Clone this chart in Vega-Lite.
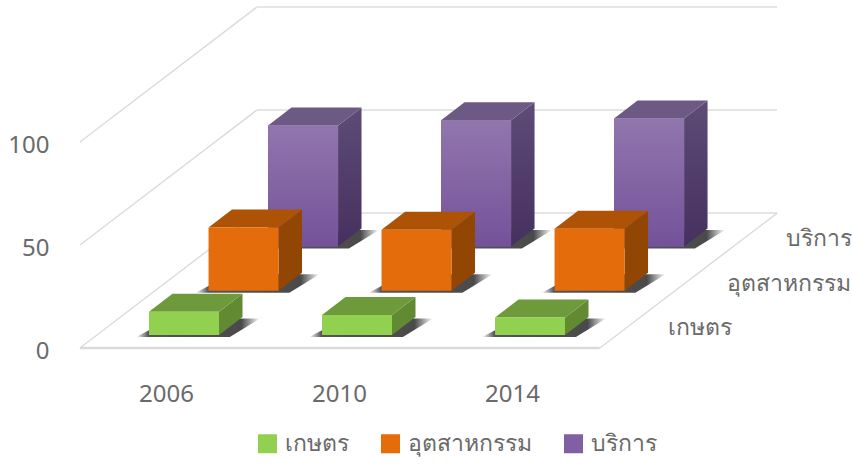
{"$schema":"https://vega.github.io/schema/vega-lite/v6.json","width":852,"height":465,"padding":0,"autosize":"none","background":"white","config":{"view":{"stroke":null},"font":"Noto Sans","axis":{"title":null,"domain":false,"ticks":false,"grid":false,"labelPadding":0,"labelFontSize":24,"labelColor":"#6a6a6a","labelFont":"Noto Sans"}},"datasets":{"bars":[{"year":2006,"sector":"เกษตร","s":0,"value":11.3},{"year":2010,"sector":"เกษตร","s":0,"value":9.7},{"year":2014,"sector":"เกษตร","s":0,"value":8.5},{"year":2006,"sector":"อุตสาหกรรม","s":1,"value":30.7},{"year":2010,"sector":"อุตสาหกรรม","s":1,"value":29.6},{"year":2014,"sector":"อุตสาหกรรม","s":1,"value":30.1},{"year":2006,"sector":"บริการ","s":2,"value":58.7},{"year":2010,"sector":"บริการ","s":2,"value":61.2},{"year":2014,"sector":"บริการ","s":2,"value":62.1}],"levels":[{"level":0},{"level":50},{"level":100}],"sectors":[{"sector":"เกษตร","s":0},{"sector":"อุตสาหกรรม","s":1},{"sector":"บริการ","s":2}]},"layer":[
{"data":{"name":"levels"},"transform":[{"calculate":"datum.level+65.5","as":"back"}],"mark":{"type":"rule","stroke":"#dcdcdc","strokeWidth":1.5},"encoding":{"x":{"datum":2004.01,"type":"quantitative","title":null,"scale":{"domain":[2002.162,2021.86],"nice":false,"zero":false},"axis":{"values":[2006,2010,2014],"format":"d","title":null,"orient":"bottom","offset":-83,"labelBaseline":"top"}},"x2":{"datum":2008.1},"y":{"field":"level","type":"quantitative","title":null,"scale":{"domain":[-56.8,168.93],"nice":false,"zero":false},"axis":{"values":[0,50,100],"title":null,"orient":"left","offset":-49,"labelOffset":4}},"y2":{"field":"back"}}},
{"data":{"name":"levels"},"transform":[{"calculate":"datum.level+65.5","as":"back"}],"mark":{"type":"rule","stroke":"#dcdcdc","strokeWidth":1.5},"encoding":{"x":{"datum":2008.1,"type":"quantitative","title":null,"scale":{"domain":[2002.162,2021.86],"nice":false,"zero":false}},"x2":{"datum":2020.13},"y":{"field":"back","type":"quantitative","title":null,"scale":{"domain":[-56.8,168.93],"nice":false,"zero":false}}}},
{"data":{"values":[{"level":0,"back":65.5}]},"mark":{"type":"rule","stroke":"#dcdcdc","strokeWidth":1.5},"encoding":{"x":{"datum":2016.03,"type":"quantitative","title":null,"scale":{"domain":[2002.162,2021.86],"nice":false,"zero":false}},"x2":{"datum":2020.13},"y":{"field":"level","type":"quantitative","title":null,"scale":{"domain":[-56.8,168.93],"nice":false,"zero":false}},"y2":{"field":"back"}}},
{"data":{"values":[{"level":0}]},"mark":{"type":"rule","stroke":"#d9d9d9","strokeWidth":2.5},"encoding":{"x":{"datum":2004.01,"type":"quantitative","title":null,"scale":{"domain":[2002.162,2021.86],"nice":false,"zero":false}},"x2":{"datum":2016.03},"y":{"field":"level","type":"quantitative","title":null,"scale":{"domain":[-56.8,168.93],"nice":false,"zero":false}}}},
{"data":{"name":"sectors"},"transform":[{"calculate":"2017.61+1.365*datum.s","as":"lx"},{"calculate":"9.7+21.5*datum.s","as":"ly"}],"mark":{"type":"text","align":"left","baseline":"middle","fontSize":23,"color":"#6a6a6a"},"encoding":{"x":{"field":"lx","type":"quantitative","title":null,"scale":{"domain":[2002.162,2021.86],"nice":false,"zero":false}},"y":{"field":"ly","type":"quantitative","title":null,"scale":{"domain":[-56.8,168.93],"nice":false,"zero":false}},"text":{"field":"sector"}}},
{"data":{"name":"bars"},"transform":[{"calculate":"[0,1]","as":"t"},{"flatten":["t"]},{"calculate":"datum.year-0.393+1.376*datum.s","as":"x0"},{"calculate":"datum.x0+1.6185","as":"x1"},{"calculate":"6.31+21.5*datum.s","as":"base"},{"calculate":"datum.base+datum.value","as":"top"},{"calculate":"datum.x1+0.543*datum.t","as":"sx"},{"calculate":"datum.base+8.74*datum.t","as":"sb"},{"calculate":"datum.top+8.74*datum.t","as":"st"},{"calculate":"datum.x0+0.543*datum.t","as":"tx0"},{"calculate":"datum.x1+0.543*datum.t","as":"tx1"},{"calculate":"datum.x0-0.3+0.82*datum.t","as":"shx0"},{"calculate":"datum.x1+0.25+0.7*datum.t","as":"shx1"},{"calculate":"datum.base-1+9*datum.t","as":"shy"}],"layer":[
{"mark":{"type":"area","orient":"horizontal","fill":{"x1":0,"y1":0,"x2":1,"y2":0,"gradient":"linear","stops":[{"offset":0,"color":"#ffffff"},{"offset":0.1,"color":"#555555"},{"offset":0.85,"color":"#4a4a4a"},{"offset":1,"color":"#ffffff"}]}},"encoding":{"detail":[{"field":"year"},{"field":"s"}],"y":{"field":"shy","type":"quantitative","title":null,"scale":{"domain":[-56.8,168.93],"nice":false,"zero":false}},"x":{"field":"shx0","type":"quantitative","title":null,"scale":{"domain":[2002.162,2021.86],"nice":false,"zero":false}},"x2":{"field":"shx1"}}},
{"transform":[{"filter":"datum.s==2"}],"layer":[
{"mark":{"type":"area","orient":"vertical","fill":{"x1":0,"y1":0,"x2":0,"y2":1,"gradient":"linear","stops":[{"offset":0,"color":"#5e4b76"},{"offset":1,"color":"#46305f"}]}},"encoding":{"detail":{"field":"year"},"x":{"field":"sx","type":"quantitative","title":null,"scale":{"domain":[2002.162,2021.86],"nice":false,"zero":false}},"y":{"field":"sb","type":"quantitative","title":null,"scale":{"domain":[-56.8,168.93],"nice":false,"zero":false}},"y2":{"field":"st"}}},
{"mark":{"type":"area","orient":"horizontal","fill":"#6c5a84"},"encoding":{"detail":{"field":"year"},"y":{"field":"st","type":"quantitative","title":null,"scale":{"domain":[-56.8,168.93],"nice":false,"zero":false}},"x":{"field":"tx0","type":"quantitative","title":null,"scale":{"domain":[2002.162,2021.86],"nice":false,"zero":false}},"x2":{"field":"tx1"}}},
{"transform":[{"filter":"datum.t==0"}],"mark":{"type":"rect"},"encoding":{"x":{"field":"x0","type":"quantitative","title":null,"scale":{"domain":[2002.162,2021.86],"nice":false,"zero":false}},"x2":{"field":"x1"},"y":{"field":"base","type":"quantitative","title":null,"scale":{"domain":[-56.8,168.93],"nice":false,"zero":false}},"y2":{"field":"top"},"color":{"field":"sector","type":"nominal","scale":{"domain":["เกษตร","อุตสาหกรรม","บริการ"],"range":["#92d050","#e46c0a","#8060a2"]},"legend":{"title":null,"orient":"none","legendX":256,"legendY":432,"direction":"horizontal","columns":3,"symbolType":"square","symbolSize":361,"symbolStrokeWidth":0,"labelFontSize":23,"labelColor":"#6a6a6a","labelFont":"Noto Sans","labelOffset":6,"columnPadding":30}}}},
{"transform":[{"filter":"datum.t==0"}],"mark":{"type":"rect","fill":{"x1":0,"y1":0,"x2":0,"y2":1,"gradient":"linear","stops":[{"offset":0,"color":"#9176ad"},{"offset":1,"color":"#74529a"}]}},"encoding":{"x":{"field":"x0","type":"quantitative","title":null,"scale":{"domain":[2002.162,2021.86],"nice":false,"zero":false}},"x2":{"field":"x1"},"y":{"field":"base","type":"quantitative","title":null,"scale":{"domain":[-56.8,168.93],"nice":false,"zero":false}},"y2":{"field":"top"}}}
]},
{"transform":[{"filter":"datum.s==1"}],"layer":[
{"mark":{"type":"area","orient":"vertical","fill":"#914604"},"encoding":{"detail":{"field":"year"},"x":{"field":"sx","type":"quantitative","title":null,"scale":{"domain":[2002.162,2021.86],"nice":false,"zero":false}},"y":{"field":"sb","type":"quantitative","title":null,"scale":{"domain":[-56.8,168.93],"nice":false,"zero":false}},"y2":{"field":"st"}}},
{"mark":{"type":"area","orient":"horizontal","fill":"#ae5305"},"encoding":{"detail":{"field":"year"},"y":{"field":"st","type":"quantitative","title":null,"scale":{"domain":[-56.8,168.93],"nice":false,"zero":false}},"x":{"field":"tx0","type":"quantitative","title":null,"scale":{"domain":[2002.162,2021.86],"nice":false,"zero":false}},"x2":{"field":"tx1"}}},
{"transform":[{"filter":"datum.t==0"}],"mark":{"type":"rect","fill":"#e46c0a"},"encoding":{"x":{"field":"x0","type":"quantitative","title":null,"scale":{"domain":[2002.162,2021.86],"nice":false,"zero":false}},"x2":{"field":"x1"},"y":{"field":"base","type":"quantitative","title":null,"scale":{"domain":[-56.8,168.93],"nice":false,"zero":false}},"y2":{"field":"top"}}}
]},
{"transform":[{"filter":"datum.s==0"}],"layer":[
{"mark":{"type":"area","orient":"vertical","fill":"#618a33"},"encoding":{"detail":{"field":"year"},"x":{"field":"sx","type":"quantitative","title":null,"scale":{"domain":[2002.162,2021.86],"nice":false,"zero":false}},"y":{"field":"sb","type":"quantitative","title":null,"scale":{"domain":[-56.8,168.93],"nice":false,"zero":false}},"y2":{"field":"st"}}},
{"mark":{"type":"area","orient":"horizontal","fill":"#6f9a3c"},"encoding":{"detail":{"field":"year"},"y":{"field":"st","type":"quantitative","title":null,"scale":{"domain":[-56.8,168.93],"nice":false,"zero":false}},"x":{"field":"tx0","type":"quantitative","title":null,"scale":{"domain":[2002.162,2021.86],"nice":false,"zero":false}},"x2":{"field":"tx1"}}},
{"transform":[{"filter":"datum.t==0"}],"mark":{"type":"rect","fill":"#92d050"},"encoding":{"x":{"field":"x0","type":"quantitative","title":null,"scale":{"domain":[2002.162,2021.86],"nice":false,"zero":false}},"x2":{"field":"x1"},"y":{"field":"base","type":"quantitative","title":null,"scale":{"domain":[-56.8,168.93],"nice":false,"zero":false}},"y2":{"field":"top"}}}
]}
]}
]}
